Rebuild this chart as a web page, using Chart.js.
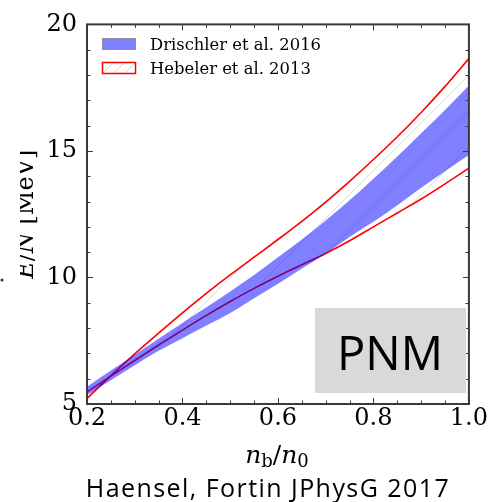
<!DOCTYPE html>
<html>
<head>
<meta charset="utf-8">
<script src="https://cdn.jsdelivr.net/npm/chart.js@4.4.1/dist/chart.umd.min.js"></script>
<style>
    html, body { margin: 0; padding: 0; background: #fff; }
    #wrap { position: relative; width: 488px; height: 502px; }
</style>
</head>
<body>
<div id="wrap"><canvas id="pnmChart" width="488" height="502"></canvas></div>
<script>
// n_b / n_0 grid and E/N [MeV]
const density = [0.2, 0.25, 0.3, 0.35, 0.4, 0.45, 0.5, 0.55, 0.6, 0.65, 0.7, 0.75, 0.8, 0.85, 0.9, 0.95, 1.0];
const drischlerUpper = [5.68, 6.32, 6.95, 7.58, 8.2, 8.82, 9.45, 10.1, 10.8, 11.5, 12.25, 13.05, 13.9, 14.78, 15.7, 16.62, 17.59];
const drischlerLower = [5.35, 5.94, 6.53, 7.1, 7.6, 8.1, 8.6, 9.18, 9.75, 10.35, 10.95, 11.6, 12.2, 12.85, 13.55, 14.2, 14.84];
const hebelerUpper = [5.22, 6.12, 6.98, 7.8, 8.6, 9.37, 10.1, 10.8, 11.5, 12.22, 12.98, 13.8, 14.66, 15.56, 16.52, 17.55, 18.65];
const hebelerLower = [5.48, 6.1, 6.72, 7.33, 7.92, 8.5, 9.05, 9.57, 10.05, 10.5, 10.95, 11.45, 12.0, 12.55, 13.1, 13.7, 14.32];

const xTicks = [0.2, 0.4, 0.6, 0.8, 1.0];
const xTickLabels = ['0.2', '0.4', '0.6', '0.8', '1.0'];
const xMinorTicks = [0.25, 0.3, 0.35, 0.45, 0.5, 0.55, 0.65, 0.7, 0.75, 0.85, 0.9, 0.95];
const yTicks = [5, 10, 15, 20];
const yMinorTicks = [6, 7, 8, 9, 11, 12, 13, 14, 16, 17, 18, 19];

const serif = "'DejaVu Serif', serif";
const sans = "'Open Sans', 'Noto Sans', sans-serif";
const axisColor = '#3a3a3a';

const toPoints = (ys) => density.map((x, i) => ({ x: x, y: ys[i] }));

// sparse 45deg hatch like the matplotlib '/' fill
function makeHatch(step, offset, color) {
    const c = document.createElement('canvas');
    c.width = step;
    c.height = step;
    const g = c.getContext('2d');
    g.strokeStyle = color;
    g.lineWidth = 1;
    [offset, offset + step].forEach((k) => {
        g.beginPath();
        g.moveTo(k + 2, -2);
        g.lineTo(-2, k + 2);
        g.stroke();
    });
    return g.createPattern(c, 'repeat');
}

const hatch = makeHatch(36, 4, 'rgba(255, 0, 0, 0.2)');

const decor = {
    id: 'decor',
    afterDraw(chart) {
        const { ctx, chartArea: a, scales: { x, y } } = chart;
        ctx.save();

        // ticks pointing inward on all four sides
        ctx.strokeStyle = axisColor;
        ctx.lineWidth = 1;
        const tick = (x1, y1, x2, y2) => {
            ctx.beginPath();
            ctx.moveTo(x1, y1);
            ctx.lineTo(x2, y2);
            ctx.stroke();
        };
        xTicks.concat(xMinorTicks).forEach((v) => {
            const px = Math.round(x.getPixelForValue(v)) + 0.5;
            const len = xTicks.includes(v) ? 6 : 3.5;
            tick(px, a.bottom, px, a.bottom - len);
            tick(px, a.top, px, a.top + len);
        });
        yTicks.concat(yMinorTicks).forEach((v) => {
            const py = Math.round(y.getPixelForValue(v)) + 0.5;
            const len = yTicks.includes(v) ? 6 : 3.5;
            tick(a.left, py, a.left + len, py);
            tick(a.right, py, a.right - len, py);
        });

        // frame
        ctx.lineWidth = 2;
        ctx.strokeRect(a.left, a.top, a.right - a.left, a.bottom - a.top);

        // legend
        ctx.fillStyle = 'rgba(0, 0, 255, 0.5)';
        ctx.fillRect(102, 38, 34, 12);
        ctx.strokeStyle = '#8c8c9c';
        ctx.lineWidth = 1;
        ctx.strokeRect(102.5, 38.5, 33, 11);

        ctx.save();
        ctx.beginPath();
        ctx.rect(102, 62, 34, 12);
        ctx.clip();
        ctx.strokeStyle = 'rgba(255, 0, 0, 0.25)';
        for (let k = 0; k < 60; k += 11) {
            tick(102 + k, 74, 114 + k, 62);
        }
        ctx.restore();
        ctx.strokeStyle = '#ff0000';
        ctx.lineWidth = 1.5;
        ctx.strokeRect(102.5, 62.5, 33, 11);

        ctx.fillStyle = '#000';
        ctx.font = '16.4px ' + serif;
        ctx.textAlign = 'left';
        ctx.textBaseline = 'alphabetic';
        ctx.fillText('Drischler et al. 2016', 150, 50);
        ctx.fillText('Hebeler et al. 2013', 150, 74);

        // PNM box
        ctx.fillStyle = '#d9d9d9';
        ctx.fillRect(315, 308, 151, 85);
        ctx.fillStyle = '#000';
        ctx.font = '47px ' + sans;
        ctx.textAlign = 'center';
        ctx.fillText('PNM', 390, 370);

        // x axis title: n_b / n_0
        const drawParts = (list, cx, base) => {
            let w = 0;
            list.forEach((p) => { ctx.font = p.f; w += ctx.measureText(p.t).width; });
            let cur = cx - w / 2;
            ctx.textAlign = 'left';
            list.forEach((p) => {
                ctx.font = p.f;
                ctx.fillText(p.t, cur, base + p.dy);
                cur += ctx.measureText(p.t).width;
            });
        };
        drawParts([
            { t: 'n', f: 'italic 25px ' + serif, dy: 0 },
            { t: 'b', f: '18px ' + serif, dy: 4 },
            { t: '/', f: '25px ' + serif, dy: 0 },
            { t: 'n', f: 'italic 25px ' + serif, dy: 0 },
            { t: '0', f: '18px ' + serif, dy: 4 },
        ], 277, 463);

        // caption, stretched to the width of the plot frame
        const caption = 'Haensel, Fortin JPhysG 2017';
        ctx.font = '25px ' + sans;
        const capW = ctx.measureText(caption).width;
        if ('letterSpacing' in ctx) {
            ctx.letterSpacing = ((363 - capW) / (caption.length - 1)).toFixed(2) + 'px';
        }
        ctx.textAlign = 'center';
        ctx.fillText(caption, 268, 497);
        if ('letterSpacing' in ctx) ctx.letterSpacing = '0px';

        // y axis title, cut at the left edge as in the figure
        ctx.save();
        ctx.beginPath();
        ctx.rect(20, 0, 80, 502);
        ctx.clip();
        ctx.translate(33, (a.top + a.bottom) / 2);
        ctx.rotate(-Math.PI / 2);
        drawParts([
            { t: 'E', f: 'italic 24px ' + serif, dy: 0 },
            { t: '/', f: '24px ' + serif, dy: 0 },
            { t: 'N', f: 'italic 24px ' + serif, dy: 0 },
            { t: ' [MeV]', f: '24px ' + serif, dy: 0 },
        ], 0, 0);
        ctx.restore();

        ctx.fillStyle = '#333';
        ctx.beginPath();
        ctx.arc(2, 280, 1.5, 0, Math.PI * 2);
        ctx.fill();

        ctx.restore();
    }
};

const ctx = document.getElementById('pnmChart');
new Chart(ctx, {
    type: 'line',
    data: {
        datasets: [
            {
                label: 'Drischler et al. 2016',
                data: toPoints(drischlerUpper),
                borderColor: 'rgba(0, 0, 0, 0)',
                borderWidth: 0,
                backgroundColor: 'rgba(0, 0, 255, 0.5)',
                fill: '+1',
                pointRadius: 0,
                cubicInterpolationMode: 'monotone',
            },
            {
                label: 'Drischler lower',
                data: toPoints(drischlerLower),
                borderColor: 'rgba(0, 0, 0, 0)',
                borderWidth: 0,
                fill: false,
                pointRadius: 0,
                cubicInterpolationMode: 'monotone',
            },
            {
                label: 'Hebeler lower',
                data: toPoints(hebelerLower),
                borderColor: '#ff0000',
                borderWidth: 1.6,
                fill: false,
                pointRadius: 0,
                cubicInterpolationMode: 'monotone',
            },
            {
                label: 'Hebeler et al. 2013',
                data: toPoints(hebelerUpper),
                borderColor: '#ff0000',
                borderWidth: 1.6,
                backgroundColor: hatch,
                fill: '-1',
                pointRadius: 0,
                cubicInterpolationMode: 'monotone',
            },
        ]
    },
    options: {
        responsive: false,
        animation: false,
        layout: {
            padding: { left: 0, top: 22, right: 18, bottom: 0 }
        },
        scales: {
            x: {
                type: 'linear',
                min: 0.2,
                max: 1.0,
                afterBuildTicks: (s) => { s.ticks = xTicks.map((v) => ({ value: v })); },
                afterFit: (s) => { s.height = 98; },
                grid: { display: false, drawTicks: false },
                border: { display: false },
                ticks: {
                    padding: 0,
                    color: '#000',
                    maxRotation: 0,
                    autoSkip: false,
                    font: { family: serif, size: 24 },
                    callback: (v, i) => xTickLabels[i],
                }
            },
            y: {
                min: 5,
                max: 20,
                afterBuildTicks: (s) => { s.ticks = yTicks.map((v) => ({ value: v })); },
                afterFit: (s) => { s.width = 87; },
                grid: { display: false, drawTicks: false },
                border: { display: false },
                ticks: {
                    padding: 10,
                    color: '#000',
                    font: { family: serif, size: 24 },
                }
            }
        },
        plugins: {
            legend: { display: false },
            tooltip: { enabled: false },
        }
    },
    plugins: [decor]
});
</script>
</body>
</html>
